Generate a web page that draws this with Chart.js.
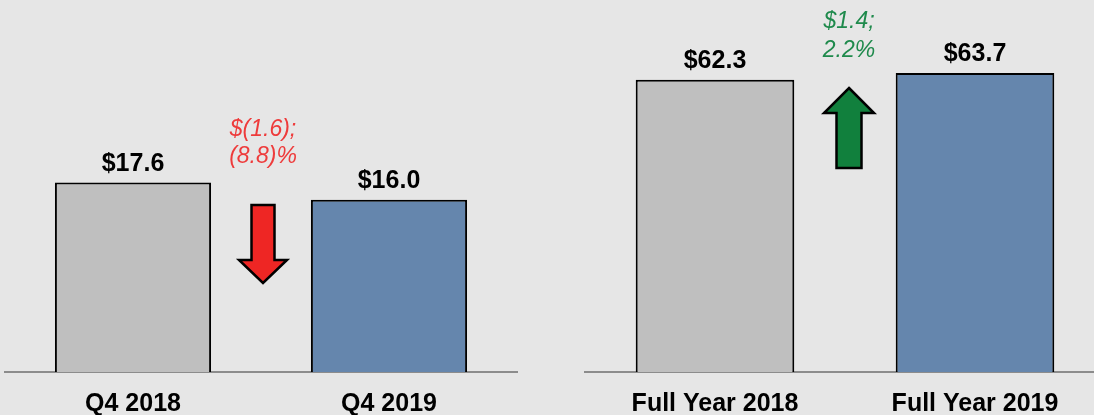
<!DOCTYPE html>
<html>
<head>
<meta charset="utf-8">
<script src="https://cdn.jsdelivr.net/npm/chart.js@4.4.1/dist/chart.umd.min.js"></script>
<style>
  html, body { margin: 0; padding: 0; background: #e6e6e6; overflow: hidden; width: 1094px; height: 415px; }
  canvas { position: absolute; top: 0; }
</style>
</head>
<body>
<canvas id="q4-chart" width="522" height="436" style="left:0"></canvas>
<canvas id="year-chart" width="530" height="436" style="left:580px"></canvas>
<script>
const q4Labels = ['Q4 2018', 'Q4 2019'];
const q4Values = [17.6, 16.0];
const yearLabels = ['Full Year 2018', 'Full Year 2019'];
const yearValues = [62.3, 63.7];
const changeNotes = [['$(1.6);', '(8.8)%'], ['$1.4;', '2.2%']];

const FONT = "'Liberation Sans', Arial, sans-serif";
const barColors = ['#bfbfbf', '#6586ad'];

// draws the arrow shape, pointing up or down
function drawArrow(ctx, x, yTop, yBottom, up, shaftW, headW, headH, fill) {
    ctx.beginPath();
    if (up) {
        ctx.moveTo(x, yTop);
        ctx.lineTo(x + headW / 2, yTop + headH);
        ctx.lineTo(x + shaftW / 2, yTop + headH);
        ctx.lineTo(x + shaftW / 2, yBottom);
        ctx.lineTo(x - shaftW / 2, yBottom);
        ctx.lineTo(x - shaftW / 2, yTop + headH);
        ctx.lineTo(x - headW / 2, yTop + headH);
    } else {
        ctx.moveTo(x - shaftW / 2, yTop);
        ctx.lineTo(x + shaftW / 2, yTop);
        ctx.lineTo(x + shaftW / 2, yBottom - headH);
        ctx.lineTo(x + headW / 2, yBottom - headH);
        ctx.lineTo(x, yBottom);
        ctx.lineTo(x - headW / 2, yBottom - headH);
        ctx.lineTo(x - shaftW / 2, yBottom - headH);
    }
    ctx.closePath();
    ctx.fillStyle = fill;
    ctx.fill();
    ctx.lineWidth = 2.5;
    ctx.strokeStyle = '#000';
    ctx.stroke();
}

const labelsPlugin = {
    id: 'barNotes',
    afterDatasetsDraw(chart, args, opts) {
        const ctx = chart.ctx;
        const meta = chart.getDatasetMeta(0);
        const values = chart.data.datasets[0].data;
        ctx.save();
        ctx.textAlign = 'center';
        ctx.textBaseline = 'alphabetic';
        ctx.font = 'bold 25px ' + FONT;
        ctx.fillStyle = '#000';
        meta.data.forEach((bar, i) => {
            ctx.fillText('$' + values[i].toFixed(1), bar.x, bar.y - 12);
        });

        const cx = (meta.data[0].x + meta.data[1].x) / 2 + opts.dx;
        ctx.font = 'italic 23px ' + FONT;
        ctx.fillStyle = opts.textColor;
        ctx.textBaseline = 'middle';
        opts.lines.forEach((line, i) => ctx.fillText(line, cx, opts.textY[i]));

        drawArrow(ctx, cx, opts.arrowTop, opts.arrowBottom, opts.up,
            opts.shaftW, opts.headW, opts.headH, opts.arrowColor);
        ctx.restore();
    }
};

function makeChart(id, labels, values, yMax, notes) {
    const ctx = document.getElementById(id).getContext('2d');
    return new Chart(ctx, {
        type: 'bar',
        data: {
            labels: labels,
            datasets: [{
                data: values,
                backgroundColor: barColors,
                borderColor: '#000',
                borderWidth: 2,
                borderSkipped: 'start',
                barPercentage: 0.61,
                categoryPercentage: 1
            }]
        },
        options: {
            responsive: false,
            animation: false,
            layout: { padding: { top: 6, left: 5, right: 5, bottom: 0 } },
            plugins: {
                legend: { display: false },
                tooltip: { enabled: false },
                barNotes: notes
            },
            scales: {
                x: {
                    grid: { display: false, drawTicks: false },
                    border: { display: true, color: '#8c8c8c', width: 2 },
                    ticks: {
                        padding: 17,
                        color: '#000',
                        font: { family: FONT, size: 25, weight: 'bold' }
                    }
                },
                y: { display: false, min: 0, max: yMax }
            }
        },
        plugins: [labelsPlugin]
    });
}

makeChart('q4-chart', q4Labels, q4Values, 34, {
    lines: changeNotes[0], textColor: '#ee3b3b', textY: [130, 157], dx: 2,
    up: false, arrowTop: 205, arrowBottom: 283, shaftW: 23, headW: 48, headH: 23,
    arrowColor: '#ee2624'
});
makeChart('year-chart', yearLabels, yearValues, 78, {
    lines: changeNotes[1], textColor: '#1f8a4c', textY: [22, 51], dx: 4,
    up: true, arrowTop: 88, arrowBottom: 168, shaftW: 25, headW: 50, headH: 25,
    arrowColor: '#11803d'
});
</script>
</body>
</html>
